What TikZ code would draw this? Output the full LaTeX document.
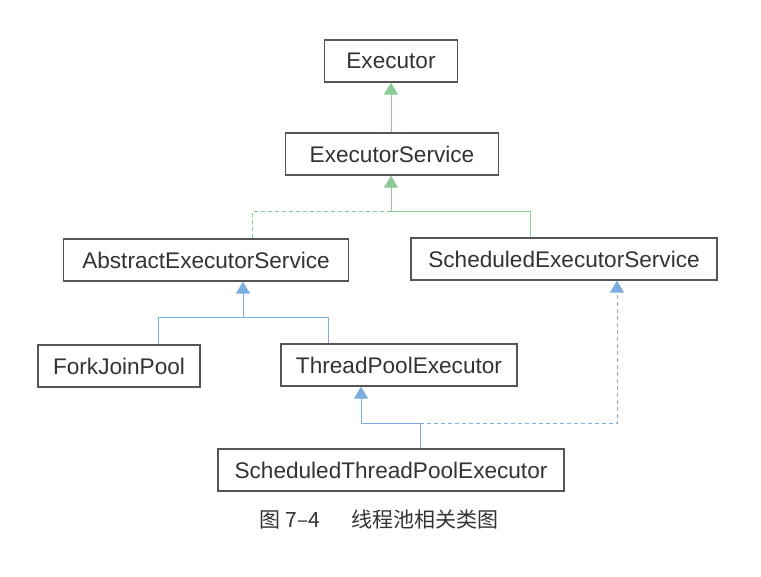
\documentclass[tikz,border=0pt]{standalone}
\usepackage{fontspec}
\setmainfont{Liberation Sans}
\newfontfamily\cjk{Noto Sans CJK SC}
\usetikzlibrary{arrows.meta,positioning}
\definecolor{boxline}{HTML}{555555}
\definecolor{boxtext}{HTML}{333333}
\definecolor{lgreen}{HTML}{8CCB98}
\definecolor{lblue}{HTML}{7DAEE0}
\tikzset{
    classbox/.style ={
        shape=rectangle,
        draw=boxline,
        line width=1.3pt,
        text=boxtext,
        inner sep=0pt,
        minimum height=42pt,
        font=\fontsize{22.6}{26}\selectfont
    },
    greenarrow/.style ={
        draw=lgreen,
        line width=1pt,
        -{Triangle[width=14pt,length=12pt]}
    },
    bluearrow/.style ={
        draw=lblue,
        line width=1pt,
        -{Triangle[width=14pt,length=12pt]}
    },
    greenline/.style ={draw=lgreen, line width=1pt},
    blueline/.style ={draw=lblue, line width=1pt},
    realize/.style ={dash pattern=on 4pt off 3pt}
}
\begin{document}
\begin{tikzpicture}[x=1pt,y=-1pt]
    \useasboundingbox[fill=white] (0,0) rectangle (761,577);
    \node[classbox,minimum width=133pt] (exec) at(391,61) {Executor};
    \node[classbox,minimum width=213pt] (es) at(392,154) {ExecutorService};
    \node[classbox,minimum width=285pt] (aes) at(206,260) {AbstractExecutorService};
    \node[classbox,minimum width=306pt] (ses) at(564,259) {ScheduledExecutorService};
    \node[classbox,minimum width=162pt] (fjp) at(119,366) {ForkJoinPool};
    \node[classbox,minimum width=236pt] (tpe) at(399,365) {ThreadPoolExecutor};
    \node[classbox,minimum width=346pt] (stpe) at(391,470) {ScheduledThreadPoolExecutor};
    \node[font=\cjk\fontsize{21}{24}\selectfont,text=boxtext] (caption) at(379,519)
        {图 7–4\hspace{31pt}线程池相关类图};
    % junction points
    \coordinate (j1) at(391,212);
    \coordinate (j2) at(243,318);
    \coordinate (j3) at(420,424);
    % Executor level
    \draw[greenarrow] (es.north -| exec.south) -- (exec.south);
    \draw[greenline,realize] ([xshift=46pt]aes.north) |- (j1);
    \draw[greenline] ([xshift=-34pt]ses.north) |- (j1);
    \draw[greenarrow] (j1) -- (j1 |- es.south);
    % AbstractExecutorService level
    \draw[blueline] ([xshift=39pt]fjp.north) |- (j2);
    \draw[blueline] ([xshift=-71pt]tpe.north) |- (j2);
    \draw[bluearrow] (j2) -- (j2 |- aes.south);
    % ScheduledThreadPoolExecutor
    \draw[blueline] (j3 |- stpe.north) -- (j3);
    \draw[bluearrow,realize] (j3) -| ([xshift=53pt]ses.south);
    \draw[bluearrow] (j3) -| ([xshift=-38pt]tpe.south);
\end{tikzpicture}
\end{document}
